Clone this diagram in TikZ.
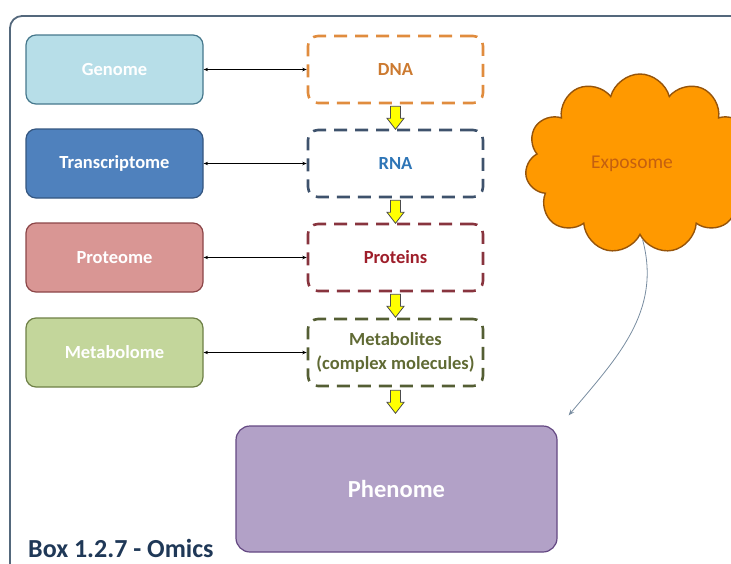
\documentclass[tikz,border=0pt]{standalone}
\usepackage{fontspec}
\setmainfont{Carlito}
\definecolor{omframe}{RGB}{84,104,124}
\definecolor{omtitle}{RGB}{31,56,87}
\definecolor{gefill}{RGB}{183,222,232}
\definecolor{gedraw}{RGB}{70,120,140}
\definecolor{trfill}{RGB}{79,129,189}
\definecolor{trdraw}{RGB}{52,86,128}
\definecolor{prfill}{RGB}{217,150,148}
\definecolor{prdraw}{RGB}{140,70,72}
\definecolor{mefill}{RGB}{195,214,155}
\definecolor{medraw}{RGB}{110,128,70}
\definecolor{dnacol}{RGB}{224,140,62}
\definecolor{dnatxt}{RGB}{204,122,48}
\definecolor{rnacol}{RGB}{62,82,108}
\definecolor{rnatxt}{RGB}{46,117,182}
\definecolor{protcol}{RGB}{136,52,62}
\definecolor{prottxt}{RGB}{158,30,42}
\definecolor{metcol}{RGB}{84,94,52}
\definecolor{mettxt}{RGB}{96,106,52}
\definecolor{phfill}{RGB}{178,161,199}
\definecolor{phdraw}{RGB}{100,72,130}
\definecolor{expfill}{RGB}{255,153,0}
\definecolor{expdraw}{RGB}{150,84,10}
\definecolor{exptxt}{RGB}{196,96,16}
\definecolor{curvecol}{RGB}{120,140,160}
\definecolor{yarrfill}{RGB}{255,255,0}
\usetikzlibrary{arrows.meta,positioning,shapes.symbols,calc}

\begin{document}
\begin{tikzpicture}[x=1pt,y=-1pt,
  omic/.style={draw,rounded corners=10pt,line width=1.2pt,minimum width=177pt,minimum height=69pt,inner sep=0pt,text=white,font=\fontsize{18.5}{21}\selectfont\bfseries},
  mol/.style={draw,dash pattern=on 13pt off 8pt,line width=2.6pt,rounded corners=10pt,minimum width=175pt,minimum height=67pt,inner sep=0pt,align=center,font=\fontsize{18.5}{21}\selectfont\bfseries},
  yarr/.style={draw=black!70,fill=yarrfill,line width=0.8pt,line join=miter},
  link/.style={{Stealth[length=4.5pt,width=3.5pt]}-{Stealth[length=4.5pt,width=3.5pt]},line width=0.7pt}]
  \useasboundingbox (0,0) rectangle (731,563);
  \clip (0,0) rectangle (731,563);
  \draw[omframe,line width=1.8pt,rounded corners=12pt] (10,16) rectangle (780,620);
  % omics column
  \node[omic,fill=gefill,draw=gedraw] (genome) at (114.5,69.5) {Genome};
  \node[omic,fill=trfill,draw=trdraw] (trans) at (114.5,163.5) {Transcriptome};
  \node[omic,fill=prfill,draw=prdraw] (proteome) at (114.5,257.5) {Proteome};
  \node[omic,fill=mefill,draw=medraw] (metabolome) at (114.5,352.5) {Metabolome};
  % molecules column
  \node[mol,draw=dnacol,text=dnatxt] (dna) at (395.5,69.5) {DNA};
  \node[mol,draw=rnacol,text=rnatxt] (rna) at (395.5,163.5) {RNA};
  \node[mol,draw=protcol,text=prottxt] (prot) at (395.5,257.5) {Proteins};
  \node[mol,draw=metcol,text=mettxt] (metab) at (395.5,352.5) {Metabolites\\[3pt](complex molecules)};
  \draw[link] (genome)--(dna);
  \draw[link] (trans)--(rna);
  \draw[link] (proteome)--(prot);
  \draw[link] (metabolome)--(metab);
  % phenome
  \node[draw=phdraw,fill=phfill,rounded corners=14pt,line width=1.2pt,minimum width=321pt,minimum height=126pt,text=white,font=\fontsize{24.5}{28}\selectfont\bfseries] (phen) at (396.5,489) {Phenome};
  % yellow block arrows
  \draw[yarr] ([xshift=-5pt,yshift=-2pt]dna.south) -- ++(10,0) -- ++(0,12) -- ++(3.5,0) -- ++(-8.5,11) -- ++(-8.5,-11) -- ++(3.5,0) -- cycle;
  \draw[yarr] ([xshift=-5pt,yshift=-2pt]rna.south) -- ++(10,0) -- ++(0,12) -- ++(3.5,0) -- ++(-8.5,11) -- ++(-8.5,-11) -- ++(3.5,0) -- cycle;
  \draw[yarr] ([xshift=-5pt,yshift=-2pt]prot.south) -- ++(10,0) -- ++(0,12) -- ++(3.5,0) -- ++(-8.5,11) -- ++(-8.5,-11) -- ++(3.5,0) -- cycle;
  \draw[yarr] ([xshift=-5pt,yshift=-3pt]metab.south) -- ++(10,0) -- ++(0,12) -- ++(3.5,0) -- ++(-8.5,11) -- ++(-8.5,-11) -- ++(3.5,0) -- cycle;
  % exposome
  \node[cloud,cloud puffs=11,cloud ignores aspect,draw=expdraw,fill=expfill,line width=1.4pt,minimum width=230pt,minimum height=180pt] (expo) at (640,164) {};
  \node[text=exptxt,font=\fontsize{19.5}{22}\selectfont] (expotxt) at (632,164) {Exposome};
  \coordinate (tip) at ([xshift=11pt,yshift=10pt]phen.north east);
  \draw[curvecol,line width=0.8pt,-{Stealth[length=6pt,width=4.5pt]}] (expo.-88) to[out=-75,in=50] (tip);
  \node[text=omtitle,font=\fontsize{26}{30}\selectfont\bfseries,anchor=base west,inner sep=0pt] (title) at (28,557) {Box 1.2.7 - Omics};
\end{tikzpicture}
\end{document}
